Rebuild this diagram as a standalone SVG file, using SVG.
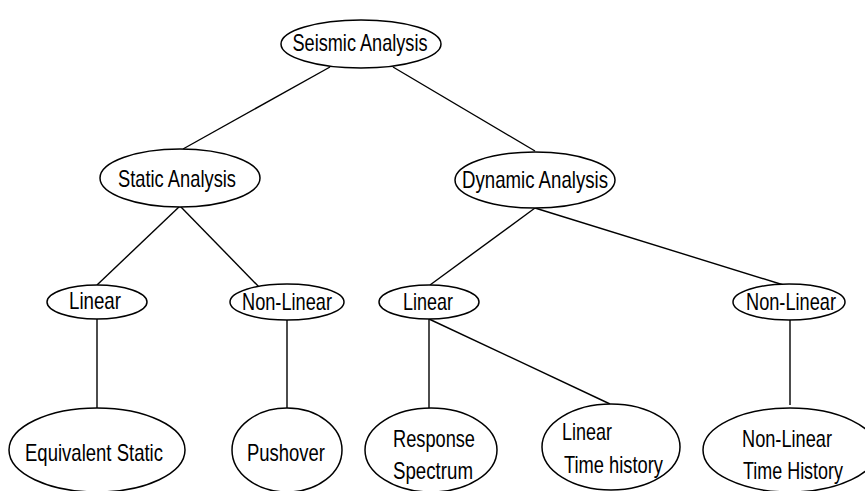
<svg xmlns="http://www.w3.org/2000/svg" width="865" height="491" viewBox="0 0 865 491">
<style>
ellipse{fill:#fff;stroke:#000;stroke-width:1.5}
.c line{stroke:#000;stroke-width:1.4}
text{font-family:"Liberation Sans",Arial,sans-serif;font-size:24px;fill:#000}
.m{text-anchor:middle}
</style>
<rect width="865" height="491" fill="#fff"/>
<g class="c" id="connectors">
<line x1="330" y1="67" x2="183" y2="149"/>
<line x1="393" y1="67" x2="535" y2="151"/>
<line x1="180" y1="206" x2="97" y2="285"/>
<line x1="180" y1="206" x2="260" y2="288"/>
<line x1="535" y1="208" x2="430" y2="285"/>
<line x1="535" y1="208" x2="790" y2="287"/>
<line x1="97" y1="319" x2="97" y2="408"/>
<line x1="287" y1="319" x2="287" y2="408"/>
<line x1="429" y1="319" x2="429" y2="408"/>
<line x1="429" y1="319" x2="610" y2="404"/>
<line x1="790" y1="319" x2="790" y2="405"/>
</g>
<g id="seismic"><ellipse cx="361" cy="44" rx="80" ry="24"/><text class="m" x="360" y="51" textLength="135" lengthAdjust="spacingAndGlyphs">Seismic Analysis</text></g>
<g id="static"><ellipse cx="180" cy="178" rx="80" ry="29"/><text class="m" x="177" y="187" textLength="118" lengthAdjust="spacingAndGlyphs">Static Analysis</text></g>
<g id="dynamic"><ellipse cx="535" cy="180" rx="80" ry="28"/><text class="m" x="535" y="188" textLength="146" lengthAdjust="spacingAndGlyphs">Dynamic Analysis</text></g>
<g id="s-linear"><ellipse cx="97" cy="302" rx="50" ry="17"/><text class="m" x="95" y="309" textLength="52" lengthAdjust="spacingAndGlyphs">Linear</text></g>
<g id="s-nonlinear"><ellipse cx="287" cy="302" rx="57" ry="18"/><text class="m" x="287" y="310" textLength="90" lengthAdjust="spacingAndGlyphs">Non-Linear</text></g>
<g id="d-linear"><ellipse cx="429" cy="302" rx="50" ry="17"/><text class="m" x="428" y="310" textLength="50" lengthAdjust="spacingAndGlyphs">Linear</text></g>
<g id="d-nonlinear"><ellipse cx="789" cy="302" rx="56" ry="18"/><text class="m" x="791" y="310" textLength="90" lengthAdjust="spacingAndGlyphs">Non-Linear</text></g>
<g id="equivalent"><ellipse cx="97" cy="450" rx="88" ry="42"/><text class="m" x="94" y="461" textLength="138" lengthAdjust="spacingAndGlyphs">Equivalent Static</text></g>
<g id="pushover"><ellipse cx="287" cy="450" rx="55" ry="42"/><text class="m" x="286" y="461" textLength="78" lengthAdjust="spacingAndGlyphs">Pushover</text></g>
<g id="response"><ellipse cx="431" cy="450" rx="66" ry="42"/><text class="m" x="434" y="447" textLength="82" lengthAdjust="spacingAndGlyphs">Response</text><text class="m" x="433" y="479" textLength="80" lengthAdjust="spacingAndGlyphs">Spectrum</text></g>
<g id="lth"><ellipse cx="611" cy="447" rx="69" ry="43"/><text x="562" y="440" textLength="50" lengthAdjust="spacingAndGlyphs">Linear</text><text x="564" y="473" textLength="99" lengthAdjust="spacingAndGlyphs">Time history</text></g>
<g id="nlth"><ellipse cx="790" cy="450" rx="87" ry="42"/><text x="742" y="447" textLength="90" lengthAdjust="spacingAndGlyphs">Non-Linear</text><text x="743" y="479" textLength="100" lengthAdjust="spacingAndGlyphs">Time History</text></g>
</svg>
